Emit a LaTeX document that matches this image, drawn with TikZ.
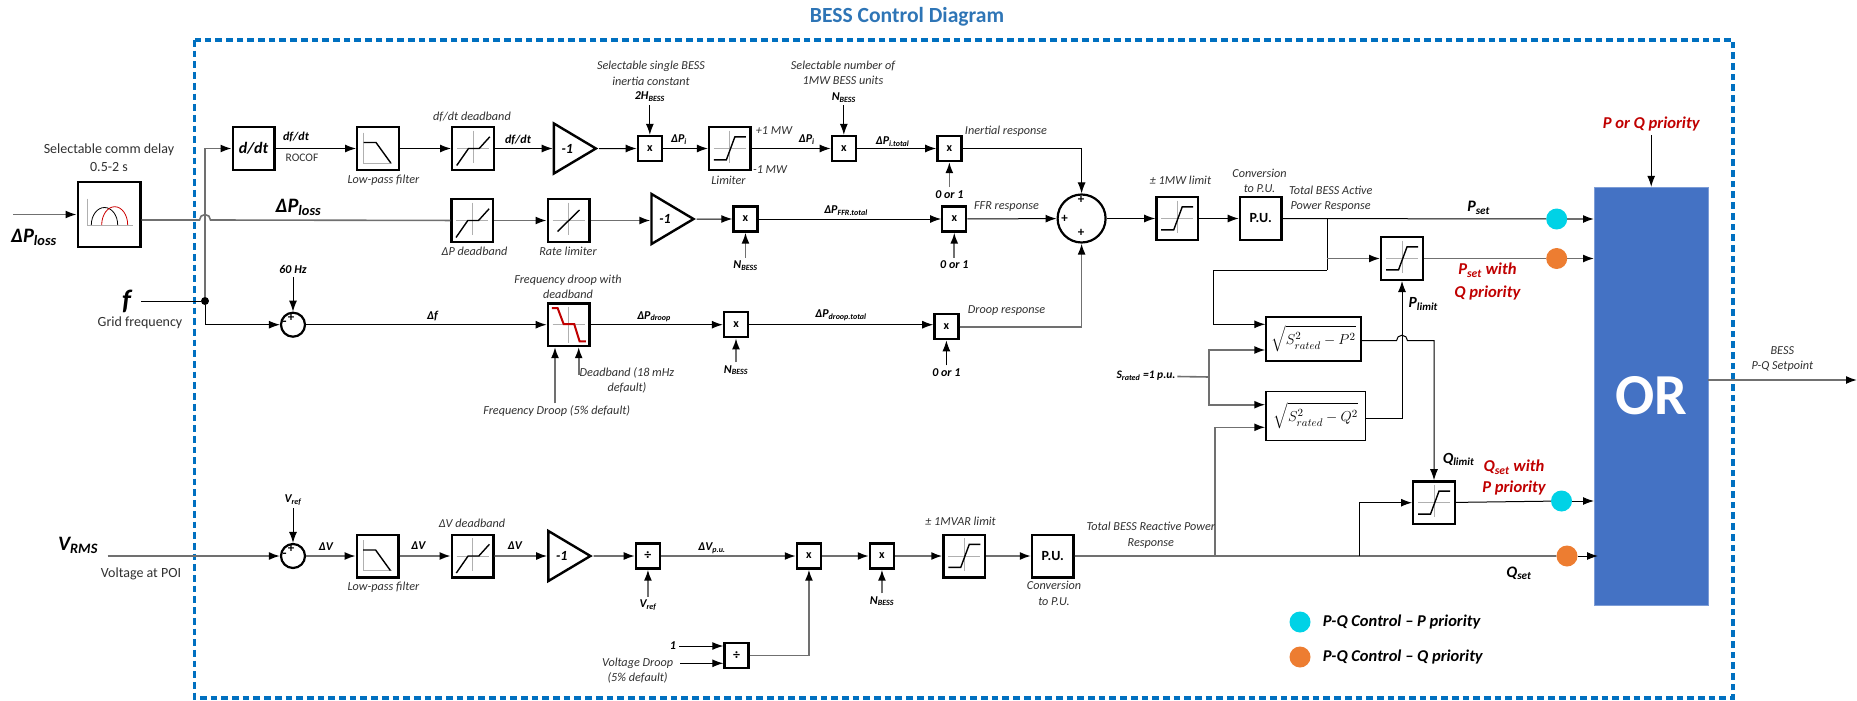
\documentclass[tikz,border=0pt]{standalone}
\usepackage{fontspec}
\usepackage{amsmath}
\setmainfont{Carlito}
\usetikzlibrary{arrows.meta,positioning,shapes.geometric,calc}
\definecolor{frameblue}{HTML}{0070C0}
\definecolor{titleblue}{HTML}{2E75B6}
\definecolor{orfill}{HTML}{4472C4}
\definecolor{dotcyan}{HTML}{00D2E6}
\definecolor{dotorange}{HTML}{ED7D31}
\definecolor{redtxt}{HTML}{C00000}
\definecolor{wiregray}{HTML}{707070}
\definecolor{axisgray}{HTML}{B0B0B0}
\definecolor{lbltxt}{HTML}{303030}
\newcommand{\fs}[1]{\fontsize{#1}{#1}\selectfont}
\newcommand{\low}[1]{\textsubscript{#1}}
\tikzset{
  blk/.style={draw,line width=2.4pt,fill=white,minimum width=41.6pt,minimum height=42.6pt,inner sep=0pt,font=\fs{14}\bfseries},
  mul/.style={blk,minimum width=24pt,minimum height=25pt,font=\fs{12}\bfseries},
  gain/.style={draw,line width=2.4pt,fill=white,isosceles triangle,isosceles triangle stretches,shape border rotate=0,minimum width=50pt,minimum height=42pt,inner sep=0pt,font=\fs{14}\bfseries\itshape},
  junc/.style={draw,line width=2.2pt,fill=white,circle,inner sep=0pt,minimum size=24pt},
  rootbox/.style={draw,line width=1.4pt,fill=white,inner sep=0pt,font=\fs{15}},
  dot/.style={circle,inner sep=0pt,minimum size=21pt},
  lbl/.style={inner sep=0pt,align=center,font=\fs{12.2}\itshape,text=lbltxt},
  sig/.style={inner sep=0pt,align=center,font=\fs{12}\bfseries\itshape},
  tag/.style={sig,outer sep=3pt},
  upl/.style={inner sep=0pt,align=center,font=\fs{14},text=lbltxt},
  bigl/.style={inner sep=0pt,font=\fs{20.5}\bfseries\itshape},
  midl/.style={inner sep=0pt,font=\fs{15.5}\bfseries\itshape},
  redl/.style={inner sep=0pt,align=center,font=\fs{16.6}\bfseries\itshape,text=redtxt},
  bare/.style={line width=1pt},
  barg/.style={line width=1.6pt,color=wiregray},
  wire/.style={bare,-{Latex[length=11pt,width=8pt,black]}},
  wirg/.style={barg,-{Latex[length=11pt,width=8pt,black]}},
  xhair/.pic={\draw[axisgray,line width=.9pt] (-16,0)--(16,0) (0,-18)--(0,14.5);},
  dbcurve/.pic={\pic{xhair};\draw[line width=1.4pt] (-16.3,17)--(-4.5,0)--(6.2,0)--(16.8,-11.7);},
  ratecurve/.pic={\pic{xhair};\draw[line width=1.4pt] (-11,11)--(11,-10.5);},
  limcurve/.pic={\pic{xhair};\draw[line width=1.4pt] (-16,11.4)--(-3.5,11.4)--(5,-11.6)--(16,-11.6);},
  lpfcurve/.pic={\draw[axisgray,line width=.9pt] (-14.5,-16)--(-14.5,14.5)--(14,14.5);
    \draw[line width=1.4pt] (-14.5,-6)--(-2,-6)--(12.8,14.5);},
  drpcurve/.pic={\draw[axisgray,line width=.9pt] (-16,0)--(16,0) (0,-18)--(0,18);
    \draw[redtxt,line width=2pt] (-16.7,-16.7)--(-11,-16.7)--(-5,-.7)--(5.6,-.7)--(11,16.7)--(17.3,16.7);},
  dlycurve/.pic={\draw[axisgray,line width=.9pt] (-21.3,-16)--(-21.3,10.5)--(24,10.5);
    \draw[line width=.8pt] (-17.7,10.5) arc[start angle=180,end angle=0,x radius=13.2pt,y radius=17.5pt];
    \draw[red!80!black,line width=.8pt] (-7.3,10.5) arc[start angle=180,end angle=0,x radius=13pt,y radius=18.3pt];},
}

\begin{document}
\begin{tikzpicture}[x=1pt,y=-1pt]
\useasboundingbox (0,0) rectangle (1857,701);
\draw[frameblue,line width=3.2pt,dash pattern=on 6.7pt off 4pt] (194.5,40) rectangle (1733,698);
\node[inner sep=0pt,font=\fs{21.6}\bfseries,text=titleblue] (title) at (907,17) {BESS Control Diagram};

% first row, df/dt
\node[blk,font=\fs{16}\bfseries\itshape] (ddt) at (253.5,148.5) {d/dt};
\node[blk,right=80.5pt of ddt] (lpfa) {};
\node[blk,right=51pt of lpfa] (dbf) {};
\node[gain,right=57.7pt of dbf] (gna) {-1};
\node[mul,right=37.6pt of gna] (mla) {x};
\node[blk,right=44.8pt of mla] (lim) {};
\node[mul,right=78.8pt of lim] (mlb) {x};
\node[mul,right=79.1pt of mlb] (mlc) {x};
% second row, delta P
\node[blk,minimum width=62.6pt,minimum height=64.6pt] (dly) at (109,214.5) {};
\node[blk] (dbp) at (472.3,220.5) {};
\node[blk,right=52.2pt of dbp] (rate) {};
\node[gain] (gnb) at (665,219) {-1};
\node[mul,right=35.6pt of gnb] (mld) {x};
\node[mul,right=182.4pt of mld] (mle) {x};
\node[junc,minimum size=48pt] (sump) at (1081.6,218.5) {};
\node[blk,right=48.5pt of sump] (lmt) {};
\node[blk,right=39.5pt of lmt] (pup) {P.U.};
% third row, droop
\node[junc] (smf) at (293,324.7) {};
\node[blk,right=240.5pt of smf] (drp) {};
\node[mul,right=132.2pt of drp] (mlf) {x};
\node[mul,right=184pt of mlf,yshift=-2pt] (mlg) {x};
% voltage row
\node[junc] (smv) at (293,556) {};
\node[blk,right=49.5pt of smv] (lpfb) {};
\node[blk,right=51pt of lpfb] (dbv) {};
\node[gain,right=52.6pt of dbv] (gnc) {-1};
\node[mul,right=41.2pt of gnc,font=\fs{14}\bfseries] (dva) {÷};
\node[mul,right=134.6pt of dva] (mlh) {x};
\node[mul,right=46.6pt of mlh] (mli) {x};
\node[blk,right=47.1pt of mli] (lmq) {};
\node[blk,right=44.6pt of lmq] (puq) {P.U.};
\node[mul,font=\fs{14}\bfseries] (dvb) at (736.5,655.3) {÷};
% limiters, roots and selector
\node[blk] (lmp) at (1402,258.5) {};
\node[blk] (lqq) at (1434,502.7) {};
\node[rootbox,minimum width=95pt,minimum height=44pt] (sqp) at (1313.5,339) {$\displaystyle\sqrt{S_{rated}^2-P^2}$};
\node[rootbox,minimum width=99.5pt,minimum height=49pt] (sqq) at (1315.7,416) {$\displaystyle\sqrt{S_{rated}^2-Q^2}$};
\node[fill=orfill,draw=orfill!70!white,minimum width=114pt,minimum height=418pt,inner sep=0pt,text=white,font=\fs{58}\bfseries] (orb) at (1651.2,396) {OR};
\node[dot,fill=dotcyan] (dpa) at (1556.7,219) {};
\node[dot,fill=dotorange] (dpb) at (1556.7,258.5) {};
\node[dot,fill=dotcyan] (dqa) at (1561.5,501) {};
\node[dot,fill=dotorange] (dqb) at (1567,556) {};
\node[circle,fill=black,inner sep=0pt,minimum size=8pt] (jn) at (205,301) {};

% icons
\pic at (dly) {dlycurve};
\pic at (lpfa) {lpfcurve}; \pic at (lpfb) {lpfcurve};
\pic at (dbf) {dbcurve}; \pic at (dbp) {dbcurve}; \pic at (dbv) {dbcurve};
\pic at (rate) {ratecurve};
\pic at (lim) {limcurve}; \pic at (lmt) {limcurve}; \pic at (lmq) {limcurve};
\pic at (lmp) {limcurve}; \pic at (lqq) {limcurve};
\pic at (drp) {drpcurve};

% signs
\node[sig,font=\fs{13}\bfseries] (sfa) at (291,317.5) {+};
\node[sig,font=\fs{13}\bfseries] (sfb) at (284.7,323.5) {-};
\node[sig,font=\fs{13}\bfseries] (sva) at (291,549) {+};
\node[sig,font=\fs{13}\bfseries] (svb) at (284.7,555) {-};
\node[sig,font=\fs{13}\bfseries] (spa) at (1081,200) {+};
\node[sig,font=\fs{13}\bfseries] (spb) at (1064.6,219) {+};
\node[sig,font=\fs{13}\bfseries] (spc) at (1081,232.7) {+};

% inputs with labels that feed arrows
\node[tag,above=30pt of mla] (inrt) {2H\low{BESS}};
\node[tag,above=29.7pt of mlb] (nba) {N\low{BESS}};
\node[tag,below=25pt of mlc] (zra) {0 or 1};
\node[tag,below=25pt of mle] (zrb) {0 or 1};
\node[tag,below=25pt of mld] (nbb) {N\low{BESS}};
\node[tag,below=24pt of mlf] (nbc) {N\low{BESS}};
\node[tag,below=25pt of mlg] (zrc) {0 or 1};
\node[tag,above=34.7pt of smf] (hz) {60 Hz};
\node[tag,above=34.7pt of smv] (vra) {V\low{ref}};
\node[tag,below=27.4pt of dva] (vrb) {V\low{ref}};
\node[tag,below=23.7pt of mli] (nbd) {N\low{BESS}};
\node[redl,outer sep=4pt] (prio) at (1651.2,124.3) {P or Q priority};
\node[lbl,outer sep=2pt] (drf) at (556.7,410.7) {Frequency Droop (5\% default)};
\node[sig,outer sep=3pt] (one) at (673,646) {1};
\node[lbl,outer sep=0pt] (vdr) at (637.6,670.5) {Voltage Droop\\[3pt](5\% default)};
\node[inner sep=0pt,font=\fs{11.5}\bfseries\itshape,outer sep=2pt] (srtd) at (1146,376) {S\low{rated} =1 p.u.};

% free ends
\coordinate (inl) at (13,214.5);
\coordinate (inf) at (141,301);
\coordinate (inv) at (107.5,556);
\coordinate (jma) at (205,220);
\coordinate (jmb) at (1402,340.7);
\coordinate (brp) at (1327,219);
\coordinate (brq) at (1327,270);
\coordinate (brr) at (1213.8,270);
\coordinate (sbr) at (1209.2,377);
\coordinate (qta) at (1214.9,556);
\coordinate (qtb) at (1359.2,556);
\coordinate (dfu) at (555,403.3);
\coordinate (ddu) at (578.7,375);
\coordinate (vdt) at (680,663.3);
\coordinate (sqo) at (1366,418.3);
\coordinate (oend) at (1857,380);

% delta P and frequency buses
\draw[wirg] (inl) -- (dly);
\draw[barg] (dly.east |- jma) -- ([xshift=-5.5pt]jma) arc[start angle=180,end angle=0,radius=5.5pt] -- (dbp);
\draw[bare] (inf) -- (jn);
\draw[wirg] (jn) |- (ddt);
\draw[wire] (jn) |- (smf);
\draw[wire] (hz) -- (smf);
% first row
\draw[wire] (ddt) -- (lpfa);
\draw[wire] (lpfa) -- (dbf);
\draw[wire] (dbf) -- (gna);
\draw[wire] (gna) -- (mla);
\draw[wire] (mla) -- (lim);
\draw[wire] (lim) -- (mlb);
\draw[wire] (mlb) -- (mlc);
\draw[wire] (mlc) -| (sump);
\draw[wire] (inrt) -- (mla);
\draw[wire] (nba) -- (mlb);
\draw[wirg] (zra) -- (mlc);
% second row
\draw[wirg] (dbp) -- (rate);
\draw[wirg] (rate.east) -- (rate.east -| gnb.west);
\draw[wire] (gnb) -- (mld);
\draw[wire] (mld) -- (mle);
\draw[wire] (mle) -- (sump);
\draw[wire] (sump) -- (lmt);
\draw[wire] (lmt) -- (pup);
\draw[bare] (pup) -- (dpa);
\draw[wirg] (dpa) -- (dpa -| orb.west);
\draw[wirg] (nbb) -- (mld);
\draw[wirg] (zrb) -- (mle);
% third row
\draw[wire] (smf) -- (drp);
\draw[wire] (drp) -- (mlf);
\draw[wire] (mlf) -- (mlf -| mlg.west);
\draw[wirg] (mlg) -| (sump);
\draw[wirg] (nbc) -- (mlf);
\draw[wire] (zrc) -- (mlg);
\draw[wirg] (dfu) -- (dfu |- drp.south);
\draw[wirg] (ddu) -- (ddu |- drp.south);
% voltage row
\draw[wirg] (inv) -- (smv);
\draw[wirg] (smv) -- (lpfb);
\draw[wirg] (lpfb) -- (dbv);
\draw[wirg] (dbv) -- (gnc);
\draw[wirg] (gnc) -- (dva);
\draw[wirg] (dva) -- (mlh);
\draw[wirg] (mlh) -- (mli);
\draw[wirg] (mli) -- (lmq);
\draw[wirg] (lmq) -- (puq);
\draw[barg] (puq) -- (dqb);
\draw[bare,-{Latex[length=11pt,width=8pt,black]},shorten >=-4pt] (dqb) -- (dqb -| orb.west);
\draw[wire] (vra) -- (smv);
\draw[wirg] (vrb) -- (dva);
\draw[wirg] (nbd) -- (mli);
\draw[wirg] (dvb) -| (mlh);
\draw[wire] (one) -- (one -| dvb.west);
\draw[wire] (vdt) -- (vdt -| dvb.west);
% power limit section
\draw[bare] (brp) -- (brq);
\draw[wirg] (brp |- lmp) -- (lmp);
\draw[barg] (lmp) -- (dpb);
\draw[wirg] (dpb) -- (dpb -| orb.west);
\draw[wire] (brq) -- (brr) |- ([yshift=14.7pt]sqp.west);
\draw[barg] (srtd) -- (sbr);
\draw[wirg] (sbr) |- ([yshift=-11pt]sqp.west);
\draw[wirg] (sbr) |- ([yshift=11.3pt]sqq.west);
\draw[wirg] (qta) |- ([yshift=-11.3pt]sqq.west);
\draw[wire] (sqo) -| (lmp);
\draw[wire] ([yshift=-1.7pt]sqp.east) -- ([xshift=-5.5pt]jmb) arc[start angle=180,end angle=0,radius=5.5pt] -| (lqq);
\draw[wire] (qtb) |- (lqq);
\draw[bare] (lqq) -- (dqa);
\draw[wire] (dqa) -- (dqa -| orb.west);
\draw[wire] (prio) -- (orb.north -| prio);
\draw[wirg] (orb.east |- oend) -- (oend);

% text labels
\node[bigl] (tpl) at (34,237) {ΔP\low{loss}};
\node[bigl] (tpm) at (298.5,207) {ΔP\low{loss}};
\node[bigl,font=\fs{28}\bfseries\itshape] (tf) at (126.5,301) {f};
\node[bigl] (tv) at (78,545) {V\low{RMS}};
\node[upl] (tcd) at (109,158) {Selectable comm delay\\[4pt]0.5-2 s};
\node[upl] (tgf) at (140,323) {Grid frequency};
\node[upl] (tpoi) at (141,574) {Voltage at POI};
\node[sig] (tdf) at (296,137) {df/dt};
\node[upl,font=\fs{11.5}] (trc) at (302,158) {ROCOF};
\node[lbl] (tlp) at (383.5,180) {Low-pass filter};
\node[lbl] (tdb) at (472,116.7) {df/dt deadband};
\node[sig] (tdg) at (518,139.7) {df/dt};
\node[lbl] (tsi) at (651,73.3) {Selectable single BESS\\[3pt]inertia constant};
\node[sig] (tpa) at (679,140) {ΔP\low{i}};
\node[lbl] (tpw) at (774,130.7) {+1 MW};
\node[lbl] (tmw) at (770,169.3) {-1 MW};
\node[lbl] (tlm) at (728.5,180) {Limiter};
\node[sig] (tpb) at (806.8,140) {ΔP\low{i}};
\node[lbl] (tsn) at (843,72.5) {Selectable number of\\[3pt]1MW BESS units};
\node[sig] (tpt) at (892.6,141.7) {ΔP\low{i.total}};
\node[lbl] (tir) at (1006,131) {Inertial response};
\node[lbl] (tdp) at (474.5,251) {ΔP deadband};
\node[lbl] (trl) at (568,251) {Rate limiter};
\node[sig] (tpf) at (846,210.7) {ΔP\low{FFR.total}};
\node[lbl] (tfr) at (1006.5,206.7) {FFR response};
\node[lbl] (tml) at (1180.5,180) {± 1MW limit};
\node[lbl] (tcv) at (1259.5,180.5) {Conversion\\[3pt]to P.U.};
\node[lbl] (tta) at (1330.7,198.5) {Total BESS Active\\[3pt]Power Response};
\node[bigl,font=\fs{16}\bfseries\itshape] (tps) at (1478.6,208) {P\low{set}};
\node[redl] (tpq) at (1487.4,281.5) {P\low{set} with\\[6pt]Q priority};
\node[midl] (tpl2) at (1423.3,304.3) {P\low{limit}};
\node[sig] (tdl) at (432.6,316) {Δf};
\node[lbl] (tfd) at (568,287) {Frequency droop with\\[3pt]deadband};
\node[lbl] (tdb2) at (627,380) {Deadband (18 mHz\\[3pt]default)};
\node[sig] (tpd) at (654,316.7) {ΔP\low{droop}};
\node[sig] (tpe) at (841,315) {ΔP\low{droop.total}};
\node[lbl] (tdr) at (1006.5,310.3) {Droop response};
\node[sig] (tva) at (326,547) {ΔV};
\node[lbl] (tlq) at (383.5,587.7) {Low-pass filter};
\node[sig] (tvb) at (418.4,545.7) {ΔV};
\node[lbl] (tvd) at (472,523.3) {ΔV deadband};
\node[sig] (tvc) at (515,545.7) {ΔV};
\node[sig] (tvu) at (712,548.3) {ΔV\low{p.u.}};
\node[lbl] (tmv) at (960.6,521.3) {± 1MVAR limit};
\node[lbl] (tcq) at (1054,593.3) {Conversion\\[3pt]to P.U.};
\node[lbl] (ttr) at (1150.8,535.2) {Total BESS Reactive Power\\[3pt]Response};
\node[midl] (tql) at (1458.5,459.3) {Q\low{limit}};
\node[redl] (tqs) at (1514,477.5) {Q\low{set} with\\[4pt]P priority};
\node[bigl,font=\fs{16}\bfseries\itshape] (tqq) at (1519,573.3) {Q\low{set}};
\node[lbl] (tbs) at (1782.3,359) {BESS\\[3pt]P-Q Setpoint};
% legend
\node[dot,fill=dotcyan] (lga) at (1300,622) {};
\node[dot,fill=dotorange] (lgb) at (1300,657) {};
\node[inner sep=0pt,font=\fs{16.5}\bfseries\itshape,right=12pt of lga] (lta) {P-Q Control – P priority};
\node[inner sep=0pt,font=\fs{16.5}\bfseries\itshape,right=12pt of lgb] (ltb) {P-Q Control – Q priority};
\end{tikzpicture}
\end{document}
